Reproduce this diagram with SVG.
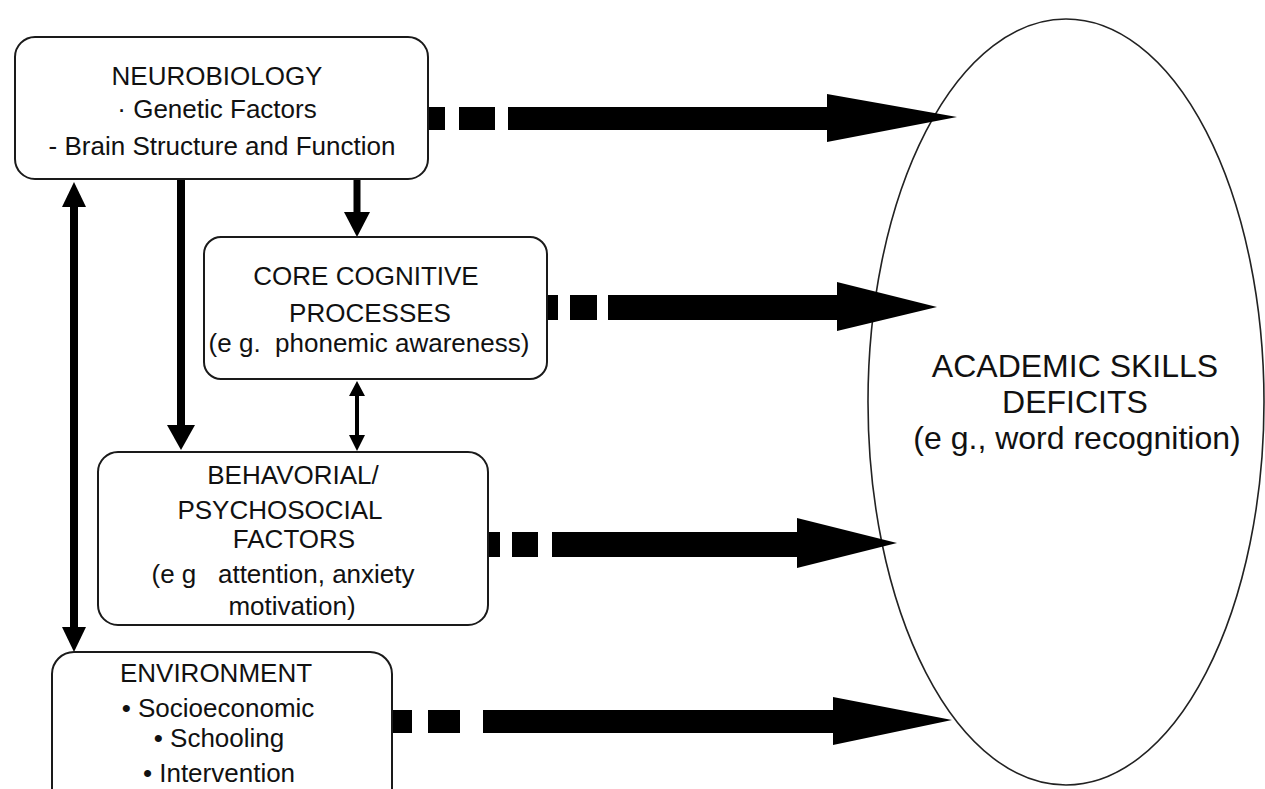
<svg xmlns="http://www.w3.org/2000/svg" width="1265" height="789" viewBox="0 0 1265 789">
<style>
.box{fill:#fff;stroke:#1a1a1a;stroke-width:2}
.t{font-family:"Liberation Sans",Arial,sans-serif;font-size:26px;fill:#111;text-anchor:middle;white-space:pre}
.te{font-family:"Liberation Sans",Arial,sans-serif;font-size:32px;fill:#111;text-anchor:middle;white-space:pre}
.b{fill:#000}
.ln{stroke:#000;fill:none}
</style>
<rect width="1265" height="789" fill="#fff"/>
<g id="academic-skills-deficits">
<ellipse cx="1066" cy="402" rx="198" ry="383" fill="#fff" stroke="#222" stroke-width="1.6"/>
<text class="te" x="1075" y="377">ACADEMIC SKILLS</text>
<text class="te" x="1075" y="413">DEFICITS</text>
<text class="te" x="1077" y="449">(e g., word recognition)</text>
</g>
<g id="connectors">
<!-- left double arrow -->
<line class="ln" x1="74" y1="205" x2="74" y2="628" stroke-width="8"/>
<polygon class="b" points="74,182 62,207 86,207"/>
<polygon class="b" points="74,652 62,627 86,627"/>
<!-- neuro to behavioral -->
<line class="ln" x1="181" y1="179" x2="181" y2="428" stroke-width="8"/>
<polygon class="b" points="181,450 167,425 195,425"/>
<!-- neuro to core -->
<line class="ln" x1="357" y1="179" x2="357" y2="214" stroke-width="7"/>
<polygon class="b" points="357,237 344,212 370,212"/>
<!-- core <-> behavioral -->
<line class="ln" x1="357" y1="392" x2="357" y2="438" stroke-width="4"/>
<polygon class="b" points="357,381 349,396 365,396"/>
<polygon class="b" points="357,451 349,435 365,435"/>
<!-- dashed arrow 1 -->
<rect class="b" x="428" y="107" width="17" height="23"/>
<rect class="b" x="459" y="107" width="36" height="23"/>
<rect class="b" x="508" y="107" width="321" height="23"/>
<polygon class="b" points="827,94 957,117 827,142"/>
<!-- dashed arrow 2 -->
<rect class="b" x="547" y="295" width="11" height="25"/>
<rect class="b" x="570" y="295" width="27" height="25"/>
<rect class="b" x="608" y="295" width="231" height="25"/>
<polygon class="b" points="837,282 937,307 837,331"/>
<!-- dashed arrow 3 -->
<rect class="b" x="487" y="532" width="13" height="25"/>
<rect class="b" x="512" y="532" width="26" height="25"/>
<rect class="b" x="552" y="532" width="247" height="25"/>
<polygon class="b" points="797,518 897,543 797,568"/>
<!-- dashed arrow 4 -->
<rect class="b" x="393" y="710" width="19" height="23"/>
<rect class="b" x="428" y="710" width="32" height="23"/>
<rect class="b" x="483" y="710" width="352" height="23"/>
<polygon class="b" points="833,697 952,720 833,745"/>
</g>
<g id="neurobiology">
<rect class="box" x="15" y="37" width="413" height="142" rx="20"/>
<text class="t" x="217" y="85">NEUROBIOLOGY</text>
<text class="t" x="217" y="118">· Genetic Factors</text>
<text class="t" x="222" y="155">- Brain Structure and Function</text>
</g>
<g id="core-cognitive">
<rect class="box" x="204" y="237" width="343" height="142" rx="17"/>
<text class="t" x="366" y="285">CORE COGNITIVE</text>
<text class="t" x="370" y="322">PROCESSES</text>
<text class="t" x="369" y="352">(e g.  phonemic awareness)</text>
</g>
<g id="behavioral">
<rect class="box" x="98" y="452" width="390" height="173" rx="20"/>
<text class="t" x="293" y="484">BEHAVORIAL/</text>
<text class="t" x="280" y="519">PSYCHOSOCIAL</text>
<text class="t" x="294" y="548">FACTORS</text>
<text class="t" x="283" y="583">(e g   attention, anxiety</text>
<text class="t" x="292" y="615">motivation)</text>
</g>
<g id="environment">
<rect class="box" x="52" y="652" width="340" height="160" rx="22"/>
<text class="t" x="216" y="682">ENVIRONMENT</text>
<text class="t" x="218" y="717">• Socioeconomic</text>
<text class="t" x="219" y="747">• Schooling</text>
<text class="t" x="219" y="782">• Intervention</text>
</g>
</svg>
